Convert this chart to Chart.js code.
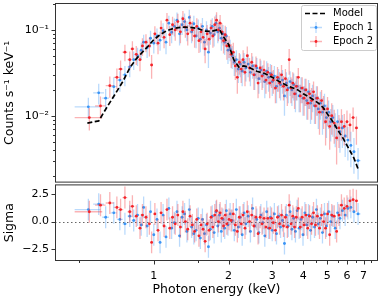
<!DOCTYPE html>
<html>
<head>
<meta charset="utf-8">
<script src="https://cdn.jsdelivr.net/npm/chart.js@4/dist/chart.umd.min.js"></script>
<style>
  html, body { margin: 0; padding: 0; background: #fff; width: 382px; height: 300px; overflow: hidden; }
  #top { position: absolute; left: 0; top: 0; }
  #bot { position: absolute; left: 0; top: 183px; }
</style>
</head>
<body>
<canvas id="top" width="382" height="184"></canvas>
<canvas id="bot" width="382" height="117"></canvas>
<script>
// axis ticks
const energyTicksMajor = [1, 2, 3, 4, 5, 6, 7];
const energyTicksMinor = [0.5, 1.5, 2.5, 3.5, 4.5, 5.5, 6.5, 7.5];
const rateTicksMajor = [0.01, 0.1];
const rateTicksMinor = [0.002, 0.003, 0.004, 0.005, 0.006, 0.007, 0.008, 0.009,
  0.02, 0.03, 0.04, 0.05, 0.06, 0.07, 0.08, 0.09, 0.2];
const sigmaTicks = [-2.5, 0, 2.5];

// best-fit model (keV, counts/s/keV)
const modelEnergy = [0.54, 0.60, 0.65, 0.70, 0.75, 0.80, 0.85, 0.90, 0.95, 1.00,
  1.05, 1.10, 1.15, 1.20, 1.30, 1.40, 1.50, 1.60, 1.70, 1.80,
  1.85, 1.90, 2.00, 2.10, 2.20, 2.30, 2.40, 2.60, 2.80, 3.00,
  3.20, 3.50, 3.80, 4.00, 4.30, 4.60, 4.80, 5.00, 5.20, 5.40,
  5.60, 5.80, 6.00, 6.20, 6.40, 6.65];
const modelRate = [0.0082, 0.0087, 0.0128, 0.018, 0.025, 0.036, 0.046, 0.055, 0.065, 0.077,
  0.086, 0.094, 0.1, 0.104, 0.108, 0.107, 0.104, 0.097, 0.096, 0.1,
  0.098, 0.085, 0.068, 0.045, 0.037, 0.038, 0.037, 0.033, 0.031, 0.028,
  0.025, 0.022, 0.02, 0.018, 0.016, 0.014, 0.0125, 0.0105, 0.009, 0.0075,
  0.0063, 0.0054, 0.0045, 0.0038, 0.0032, 0.0024];

// Epoch 1
const e1Energy = [
  0.545, 0.60, 0.64, 0.69, 0.73, 0.765, 0.80, 0.83, 0.86, 0.89,
  0.91, 0.94, 0.97, 1.00, 1.03, 1.06, 1.09, 1.12, 1.15, 1.18,
  1.21, 1.24, 1.27, 1.30, 1.33, 1.36, 1.39, 1.42, 1.45, 1.48,
  1.51, 1.54, 1.57, 1.60, 1.63, 1.66, 1.69, 1.72, 1.75, 1.78,
  1.81, 1.84, 1.87, 1.90, 1.93, 1.96, 1.99, 2.03, 2.07, 2.11,
  2.15, 2.19, 2.23, 2.27, 2.31, 2.35, 2.40, 2.45, 2.50, 2.55,
  2.60, 2.65, 2.70, 2.75, 2.80, 2.85, 2.90, 2.95, 3.00, 3.06,
  3.12, 3.18, 3.24, 3.30, 3.36, 3.42, 3.48, 3.54, 3.60, 3.66,
  3.72, 3.78, 3.85, 3.92, 3.99, 4.06, 4.13, 4.20, 4.28, 4.36,
  4.44, 4.52, 4.60, 4.69, 4.78, 4.87, 4.96, 5.06, 5.16, 5.26,
  5.38, 5.50, 5.62, 5.75, 5.90, 6.05, 6.22, 6.40, 6.65];
const e1Width = [
  0.065, 0.03, 0.02, 0.02, 0.02, 0.017, 0.016, 0.015, 0.014, 0.013,
  0.012, 0.012, 0.012, 0.012, 0.012, 0.012, 0.012, 0.013, 0.013, 0.013,
  0.013, 0.014, 0.014, 0.014, 0.014, 0.015, 0.015, 0.015, 0.015, 0.016,
  0.016, 0.016, 0.016, 0.017, 0.017, 0.017, 0.017, 0.018, 0.018, 0.018,
  0.018, 0.019, 0.019, 0.019, 0.02, 0.02, 0.02, 0.02, 0.021, 0.021,
  0.022, 0.022, 0.022, 0.023, 0.023, 0.023, 0.024, 0.024, 0.025, 0.025,
  0.026, 0.026, 0.027, 0.027, 0.028, 0.028, 0.029, 0.029, 0.03, 0.03,
  0.031, 0.032, 0.032, 0.033, 0.033, 0.034, 0.035, 0.035, 0.036, 0.036,
  0.037, 0.038, 0.038, 0.039, 0.04, 0.04, 0.041, 0.042, 0.043, 0.043,
  0.044, 0.045, 0.046, 0.047, 0.048, 0.049, 0.05, 0.05, 0.05, 0.06,
  0.06, 0.06, 0.06, 0.07, 0.07, 0.08, 0.08, 0.09, 0.15];
const e1Rate = [
  0.0127, 0.0185, 0.016, 0.0218, 0.026, 0.030, 0.037, 0.045, 0.05, 0.058,
  0.072, 0.062, 0.08, 0.07, 0.085, 0.076, 0.098, 0.072, 0.12, 0.094,
  0.11, 0.13, 0.09, 0.115, 0.125, 0.1, 0.14, 0.095, 0.118, 0.085,
  0.105, 0.078, 0.11, 0.072, 0.1, 0.055, 0.092, 0.11, 0.088, 0.12,
  0.095, 0.105, 0.08, 0.09, 0.072, 0.085, 0.058, 0.06, 0.05, 0.042,
  0.045, 0.035, 0.04, 0.033, 0.042, 0.036, 0.04, 0.032, 0.038, 0.03,
  0.036, 0.027, 0.034, 0.03, 0.025, 0.033, 0.028, 0.031, 0.025, 0.029,
  0.022, 0.027, 0.023, 0.026, 0.017, 0.024, 0.021, 0.025, 0.02, 0.023,
  0.018, 0.022, 0.017, 0.021, 0.016, 0.02, 0.015, 0.019, 0.014, 0.017,
  0.013, 0.016, 0.012, 0.014, 0.011, 0.013, 0.0095, 0.011, 0.0085, 0.0095,
  0.0075, 0.0085, 0.0065, 0.0072, 0.0058, 0.0052, 0.0045, 0.0038, 0.003];
const e1Err = [
  0.0035, 0.005, 0.0045, 0.006, 0.007, 0.008, 0.009, 0.011, 0.012, 0.013,
  0.016, 0.015, 0.018, 0.017, 0.019, 0.019, 0.022, 0.02, 0.026, 0.024,
  0.026, 0.03, 0.024, 0.028, 0.03, 0.026, 0.032, 0.025, 0.028, 0.024,
  0.027, 0.023, 0.028, 0.022, 0.026, 0.019, 0.025, 0.027, 0.024, 0.03,
  0.025, 0.027, 0.023, 0.024, 0.021, 0.023, 0.018, 0.017, 0.015, 0.013,
  0.013, 0.011, 0.012, 0.011, 0.012, 0.011, 0.012, 0.01, 0.011, 0.01,
  0.011, 0.009, 0.01, 0.009, 0.009, 0.01, 0.009, 0.009, 0.008, 0.009,
  0.008, 0.008, 0.008, 0.008, 0.007, 0.008, 0.007, 0.008, 0.007, 0.008,
  0.007, 0.007, 0.006, 0.007, 0.006, 0.007, 0.006, 0.007, 0.006, 0.006,
  0.005, 0.006, 0.005, 0.005, 0.005, 0.005, 0.004, 0.004, 0.0035, 0.0038,
  0.0032, 0.0034, 0.0028, 0.003, 0.0025, 0.0022, 0.002, 0.0017, 0.0012];
const e1Sigma = [
  1.1, 1.6, 0.4, 0.8, 0.2, -0.2, 0.5, 0.1, 0.6, -0.3,
  1.3, -0.4, 0.9, -1.2, 0.2, -1.9, 0.6, -1.4, 1.2, -0.6,
  -0.1, 0.9, -1.3, 0.4, 0.7, -0.9, 1.1, -0.5, -1.1, -0.8,
  0.3, -1.5, 0.2, -1.1, -0.3, -2.3, -0.7, 0.5, -1.0, 0.9,
  -0.4, 0.6, -0.9, 0.2, -0.6, 1.0, -0.3, 0.7, 0.1, -0.8,
  1.1, -0.5, 0.4, -1.2, 0.8, -0.2, 0.5, -0.9, 1.2, -0.4,
  0.2, -1.0, 0.6, -0.1, -1.3, 0.9, -0.6, 0.4, -0.8, 0.7,
  -1.1, 0.5, -0.5, 0.1, -2.0, 0.6, -0.4, 0.9, -0.7, 0.3,
  -0.9, 1.0, -0.6, 0.2, -1.2, 0.8, -0.3, 0.6, -0.8, 0.4,
  -0.5, 1.1, -0.2, 0.3, -1.0, 0.7, -0.4, 0.9, 0.0, 0.5,
  -0.6, 0.8, 0.3, 1.0, 0.6, 1.2, 1.3, 0.9, 0.7];

// Epoch 2
const e2Energy = [
  0.55, 0.61, 0.665, 0.71, 0.735, 0.765, 0.80, 0.82, 0.85, 0.88,
  0.90, 0.93, 0.96, 0.98, 1.01, 1.04, 1.07, 1.10, 1.13, 1.16,
  1.19, 1.22, 1.25, 1.28, 1.31, 1.34, 1.37, 1.40, 1.43, 1.46,
  1.49, 1.52, 1.55, 1.58, 1.61, 1.64, 1.67, 1.70, 1.73, 1.76,
  1.79, 1.82, 1.85, 1.88, 1.91, 1.94, 1.97, 2.01, 2.05, 2.09,
  2.13, 2.17, 2.21, 2.25, 2.29, 2.33, 2.38, 2.43, 2.48, 2.53,
  2.58, 2.63, 2.68, 2.73, 2.78, 2.83, 2.88, 2.93, 2.98, 3.03,
  3.09, 3.15, 3.21, 3.27, 3.33, 3.39, 3.45, 3.51, 3.57, 3.63,
  3.69, 3.75, 3.82, 3.89, 3.96, 4.03, 4.10, 4.17, 4.24, 4.32,
  4.40, 4.48, 4.56, 4.65, 4.74, 4.83, 4.92, 5.01, 5.11, 5.21,
  5.33, 5.45, 5.57, 5.70, 5.85, 6.00, 6.17, 6.35, 6.55];
const e2Width = [
  0.07, 0.03, 0.025, 0.02, 0.018, 0.017, 0.016, 0.015, 0.014, 0.013,
  0.013, 0.012, 0.012, 0.012, 0.012, 0.012, 0.012, 0.012, 0.013, 0.013,
  0.013, 0.013, 0.014, 0.014, 0.014, 0.014, 0.015, 0.015, 0.015, 0.015,
  0.016, 0.016, 0.016, 0.016, 0.017, 0.017, 0.017, 0.017, 0.018, 0.018,
  0.018, 0.018, 0.019, 0.019, 0.019, 0.02, 0.02, 0.02, 0.021, 0.021,
  0.021, 0.022, 0.022, 0.022, 0.023, 0.023, 0.024, 0.024, 0.025, 0.025,
  0.026, 0.026, 0.027, 0.027, 0.028, 0.028, 0.029, 0.029, 0.03, 0.03,
  0.031, 0.031, 0.032, 0.033, 0.033, 0.034, 0.034, 0.035, 0.036, 0.036,
  0.037, 0.038, 0.038, 0.039, 0.04, 0.04, 0.041, 0.042, 0.042, 0.043,
  0.044, 0.045, 0.046, 0.047, 0.047, 0.048, 0.049, 0.05, 0.05, 0.06,
  0.06, 0.06, 0.06, 0.07, 0.07, 0.08, 0.08, 0.09, 0.1];
const e2Rate = [
  0.0095, 0.013, 0.0224, 0.028, 0.035, 0.055, 0.045, 0.06, 0.052, 0.045,
  0.065, 0.072, 0.065, 0.039, 0.09, 0.07, 0.105, 0.082, 0.13, 0.088,
  0.115, 0.1, 0.125, 0.095, 0.135, 0.108, 0.09, 0.12, 0.1, 0.085,
  0.11, 0.075, 0.095, 0.082, 0.06, 0.09, 0.078, 0.105, 0.085, 0.115,
  0.13, 0.1, 0.12, 0.095, 0.075, 0.088, 0.065, 0.066, 0.052, 0.055,
  0.038, 0.028, 0.042, 0.035, 0.045, 0.032, 0.05, 0.036, 0.042, 0.03,
  0.038, 0.024, 0.036, 0.029, 0.034, 0.026, 0.032, 0.024, 0.03, 0.026,
  0.021, 0.028, 0.024, 0.03, 0.022, 0.027, 0.02, 0.045, 0.021, 0.024,
  0.018, 0.022, 0.028, 0.017, 0.021, 0.016, 0.02, 0.014, 0.018, 0.015,
  0.019, 0.013, 0.016, 0.011, 0.015, 0.012, 0.0085, 0.012, 0.0075, 0.01,
  0.0082, 0.0055, 0.0072, 0.0085, 0.0075, 0.0085, 0.0078, 0.0095, 0.0072];
const e2Err = [
  0.0028, 0.0038, 0.0062, 0.0075, 0.009, 0.012, 0.011, 0.014, 0.013, 0.012,
  0.015, 0.017, 0.016, 0.012, 0.02, 0.018, 0.024, 0.021, 0.028, 0.023,
  0.027, 0.025, 0.029, 0.025, 0.031, 0.027, 0.024, 0.029, 0.026, 0.023,
  0.027, 0.021, 0.025, 0.023, 0.019, 0.024, 0.022, 0.026, 0.023, 0.028,
  0.031, 0.026, 0.029, 0.025, 0.022, 0.024, 0.02, 0.019, 0.016, 0.016,
  0.012, 0.01, 0.012, 0.011, 0.013, 0.01, 0.014, 0.011, 0.012, 0.01,
  0.011, 0.008, 0.01, 0.009, 0.01, 0.008, 0.009, 0.008, 0.009, 0.008,
  0.007, 0.009, 0.008, 0.009, 0.007, 0.008, 0.007, 0.015, 0.007, 0.008,
  0.006, 0.007, 0.008, 0.006, 0.007, 0.006, 0.007, 0.005, 0.006, 0.006,
  0.006, 0.005, 0.006, 0.005, 0.005, 0.005, 0.004, 0.0045, 0.0035, 0.004,
  0.0035, 0.0028, 0.003, 0.0034, 0.003, 0.003, 0.0028, 0.003, 0.0026];
const e2Sigma = [
  0.9, 1.5, 1.7, 1.3, 1.1, 2.2, 0.9, 1.4, 0.5, -0.6,
  0.6, 0.4, -0.2, -1.9, 0.7, -0.8, 0.8, -0.4, 1.1, -0.6,
  0.4, -0.2, 0.6, -0.5, 0.9, 0.0, -0.7, 0.5, -0.3, -0.9,
  0.2, -1.3, -0.3, -0.7, -1.8, -0.2, -0.8, 0.4, -0.5, 0.6,
  1.0, 0.0, 0.8, 0.3, -0.4, 0.6, -0.2, 0.2, 0.1, 0.7,
  -0.3, -0.9, 0.4, -0.2, 0.6, -0.6, 0.9, 0.0, 0.6, -0.4,
  0.4, -1.1, 0.4, -0.2, 0.3, -0.5, 0.3, -0.6, 0.3, -0.1,
  -0.8, 0.4, -0.2, 0.6, -0.4, 0.4, -0.5, 1.5, -0.2, 0.5,
  -0.5, 0.4, 1.2, -0.5, 0.4, -0.3, 0.6, -0.6, 0.5, -0.2,
  0.8, -0.3, 0.5, -0.6, 0.6, 0.0, -0.6, 0.7, -1.2, 0.6,
  0.5, -0.9, 0.6, 1.5, 1.2, 1.4, 1.9, 2.0, 1.9];

const blue = '#3a94f5', blueBar = 'rgba(58,148,245,0.35)';
const red = '#f4242a', redBar = 'rgba(244,36,42,0.35)';
const frameColor = '#333';

Chart.defaults.font.family = '"DejaVu Sans", sans-serif';
Chart.defaults.color = '#000';

function points(xs, ys) {
  return xs.map((x, i) => ({ x: x, y: ys[i] }));
}

function buildTicks(major, minor) {
  return scale => {
    scale.ticks = major.map(v => ({ value: v, major: true }))
      .concat(minor.map(v => ({ value: v, major: false })));
  };
}

// fixed axis box, no label overhang padding
function fixBox(size) {
  return s => {
    if (s.isHorizontal()) s.height = size; else s.width = size;
    s.paddingTop = 0; s.paddingBottom = 0; s.paddingLeft = 0; s.paddingRight = 0;
  };
}

// error bars drawn just under each dataset's own markers
const errorBars = {
  id: 'errorBars',
  beforeDatasetDraw(chart, args) {
    const ds = chart.data.datasets[args.index];
    if (!ds.xErr) return;
    const sx = chart.scales.x, sy = chart.scales.y, a = chart.chartArea;
    const ctx = chart.ctx;
    ctx.save();
    ctx.beginPath();
    ctx.rect(a.left, a.top, a.right - a.left, a.bottom - a.top);
    ctx.clip();
    ctx.strokeStyle = ds.barColor;
    ctx.lineWidth = 1.3;
    ds.data.forEach((p, i) => {
      const px = sx.getPixelForValue(p.x), py = sy.getPixelForValue(p.y);
      const ye = ds.yErr ? ds.yErr[i] : 1;
      ctx.beginPath();
      ctx.moveTo(sx.getPixelForValue(p.x - ds.xErr[i]), py);
      ctx.lineTo(sx.getPixelForValue(p.x + ds.xErr[i]), py);
      ctx.moveTo(px, sy.getPixelForValue(p.y - ye));
      ctx.lineTo(px, sy.getPixelForValue(p.y + ye));
      ctx.stroke();
    });
    ctx.restore();
  }
};

// frame plus outward tick marks
const frame = {
  id: 'frame',
  afterDraw(chart) {
    const ctx = chart.ctx, a = chart.chartArea;
    ctx.save();
    ctx.strokeStyle = frameColor;
    ctx.lineWidth = 1;
    ctx.strokeRect(a.left + 0.5, a.top + 0.5, a.right - a.left - 1, a.bottom - a.top - 1);
    Object.values(chart.scales).forEach(s => {
      if (!s.options.display) return;
      s.ticks.forEach(t => {
        const len = t.major ? 3.5 : 2;
        const p = Math.round(s.getPixelForValue(t.value)) + 0.5;
        ctx.beginPath();
        if (s.isHorizontal()) {
          ctx.moveTo(p, a.bottom);
          ctx.lineTo(p, a.bottom + len);
        } else {
          ctx.moveTo(a.left, p);
          ctx.lineTo(a.left - len, p);
        }
        ctx.stroke();
      });
    });
    ctx.restore();
  }
};

const zeroLine = {
  id: 'zeroLine',
  beforeDatasetsDraw(chart) {
    const ctx = chart.ctx, a = chart.chartArea;
    const y = Math.round(chart.scales.y.getPixelForValue(0)) + 0.5;
    ctx.save();
    ctx.strokeStyle = '#666';
    ctx.lineWidth = 1.2;
    ctx.setLineDash([1.5, 2.5]);
    ctx.beginPath();
    ctx.moveTo(a.left, y);
    ctx.lineTo(a.right, y);
    ctx.stroke();
    ctx.restore();
  }
};

const legendBox = {
  id: 'legendBox',
  afterDraw(chart) {
    const ctx = chart.ctx;
    ctx.save();
    ctx.fillStyle = 'rgba(255,255,255,0.85)';
    ctx.strokeStyle = '#ccc';
    ctx.lineWidth = 1;
    ctx.beginPath();
    ctx.roundRect(301.5, 5.5, 75, 45, 2);
    ctx.fill();
    ctx.stroke();
    // Model
    ctx.strokeStyle = '#000';
    ctx.lineWidth = 1.7;
    ctx.setLineDash([5, 2.5]);
    ctx.beginPath();
    ctx.moveTo(305, 13.5);
    ctx.lineTo(327, 13.5);
    ctx.stroke();
    ctx.setLineDash([]);
    // epochs
    [[27.5, blue, blueBar], [41.5, red, redBar]].forEach(([y, c, cb]) => {
      ctx.strokeStyle = cb;
      ctx.lineWidth = 1.3;
      ctx.beginPath();
      ctx.moveTo(310, y);
      ctx.lineTo(322, y);
      ctx.moveTo(316, y - 5.5);
      ctx.lineTo(316, y + 5.5);
      ctx.stroke();
      ctx.fillStyle = c;
      ctx.beginPath();
      ctx.arc(316, y, 1.4, 0, Math.PI * 2);
      ctx.fill();
    });
    ctx.fillStyle = '#000';
    ctx.font = '10px "DejaVu Sans"';
    ctx.textBaseline = 'middle';
    ctx.fillText('Model', 333, 13.5);
    ctx.fillText('Epoch 1', 333, 27.5);
    ctx.fillText('Epoch 2', 333, 41.5);
    ctx.restore();
  }
};

const markerStyle = { pointRadius: 1.4, pointHoverRadius: 1.4, pointBorderWidth: 0, showLine: false };

// spectrum panel
new Chart(document.getElementById('top'), {
  type: 'scatter',
  data: {
    datasets: [
      {
        type: 'line', label: 'Model', data: points(modelEnergy, modelRate),
        borderColor: '#000', borderWidth: 1.7, borderDash: [5, 2.5],
        pointRadius: 0, fill: false, tension: 0
      },
      Object.assign({ label: 'Epoch 2', data: points(e2Energy, e2Rate), xErr: e2Width, yErr: e2Err,
        barColor: redBar, backgroundColor: red, pointBackgroundColor: red }, markerStyle),
      Object.assign({ label: 'Epoch 1', data: points(e1Energy, e1Rate), xErr: e1Width, yErr: e1Err,
        barColor: blueBar, backgroundColor: blue, pointBackgroundColor: blue }, markerStyle)
    ]
  },
  options: {
    responsive: false,
    animation: false,
    devicePixelRatio: 1,
    layout: { padding: { left: 0, right: 4, top: 3, bottom: 1 } },
    plugins: { legend: { display: false }, tooltip: { enabled: false } },
    scales: {
      x: { type: 'logarithmic', min: 0.4, max: 8, bounds: 'data', display: false },
      y: {
        type: 'logarithmic', min: 0.00166, max: 0.206, bounds: 'data',
        afterBuildTicks: buildTicks(rateTicksMajor, rateTicksMinor),
        afterFit: fixBox(55),
        grid: { drawOnChartArea: false, color: 'rgba(0,0,0,0)', tickLength: 4 },
        border: { display: false },
        ticks: {
          autoSkip: false, padding: 2, font: { size: 11 },
          callback: v => v === 0.1 ? '10⁻¹' : v === 0.01 ? '10⁻²' : ''
        },
        title: { display: true, text: 'Counts s⁻¹ keV⁻¹', font: { size: 12.5 }, padding: { top: 2, bottom: 0 } }
      }
    }
  },
  plugins: [errorBars, frame, legendBox]
});

// residual panel
new Chart(document.getElementById('bot'), {
  type: 'scatter',
  data: {
    datasets: [
      Object.assign({ label: 'Epoch 2', data: points(e2Energy, e2Sigma), xErr: e2Width,
        barColor: redBar, backgroundColor: red, pointBackgroundColor: red }, markerStyle),
      Object.assign({ label: 'Epoch 1', data: points(e1Energy, e1Sigma), xErr: e1Width,
        barColor: blueBar, backgroundColor: blue, pointBackgroundColor: blue }, markerStyle)
    ]
  },
  options: {
    responsive: false,
    animation: false,
    devicePixelRatio: 1,
    layout: { padding: { left: 0, right: 4, top: 1, bottom: 0 } },
    plugins: { legend: { display: false }, tooltip: { enabled: false } },
    scales: {
      x: {
        type: 'logarithmic', min: 0.4, max: 8, bounds: 'data',
        afterBuildTicks: buildTicks(energyTicksMajor, energyTicksMinor),
        afterFit: fixBox(39),
        grid: { drawOnChartArea: false, color: 'rgba(0,0,0,0)', tickLength: 4 },
        border: { display: false },
        ticks: {
          autoSkip: false, maxRotation: 0, padding: 5, font: { size: 11 },
          callback: v => energyTicksMajor.includes(v) ? String(v) : ''
        },
        title: { display: true, text: 'Photon energy (keV)', font: { size: 12.5 }, padding: { top: 0, bottom: 3 } }
      },
      y: {
        type: 'linear', min: -3.6, max: 3.4,
        afterBuildTicks: buildTicks(sigmaTicks, []),
        afterFit: fixBox(55),
        grid: { drawOnChartArea: false, color: 'rgba(0,0,0,0)', tickLength: 4 },
        border: { display: false },
        ticks: {
          autoSkip: false, padding: 2, font: { size: 11 },
          callback: v => (v < 0 ? '−' : '') + Math.abs(v).toFixed(1)
        },
        title: { display: true, text: 'Sigma', font: { size: 12.5 }, padding: { top: 2, bottom: 0 } }
      }
    }
  },
  plugins: [zeroLine, errorBars, frame]
});
</script>
</body>
</html>
